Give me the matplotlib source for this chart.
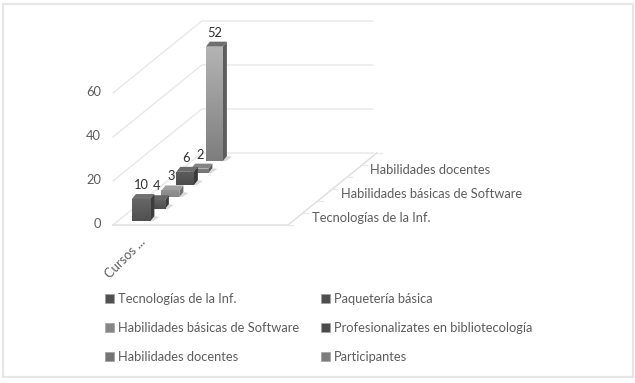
import matplotlib
matplotlib.use("Agg")
import matplotlib.pyplot as plt
import numpy as np
from matplotlib.colors import LinearSegmentedColormap
from matplotlib.patches import Patch, Polygon, Rectangle

plt.rcParams["font.family"] = ["Lato", "DejaVu Sans"]

category = "Cursos ..."
series = [
    "Tecnologías de la Inf.",
    "Paquetería básica",
    "Habilidades básicas de Software",
    "Profesionalizates en bibliotecología",
    "Habilidades docentes",
    "Participantes",
]
values = [10, 4, 3, 6, 2, 52]
yticks = [0, 20, 40, 60]
depth_labels = ["Tecnologías de la Inf.", "Habilidades básicas de Software", "Habilidades docentes"]
depth_label_slots = [0, 2, 4]

# front (top, bottom), side, top face
colors = [
    ("#666666", "#505050", "#3c3c3c", "#707070"),
    ("#606060", "#4e4e4e", "#3c3c3c", "#666666"),
    ("#929292", "#868686", "#707070", "#a0a0a0"),
    ("#5e5e5e", "#4c4c4c", "#3a3a3a", "#6c6c6c"),
    ("#808080", "#747474", "#5c5c5c", "#848484"),
    ("#b4b4b4", "#7e7e7e", "#5c5c5c", "#6e6e6e"),
]

TEXT = "#5c5c5c"
GRID = "#e8e8e8"
FONT = 9.3
X0, Y0 = 113, 225  # front left corner of the floor
FLOOR_W = 175
SLOT_DX, SLOT_DY = 14.8, 12
PX_PER_UNIT = 2.2
N = len(series)


def project(x, depth, value=0):
    return X0 + x + depth * SLOT_DX, Y0 - depth * SLOT_DY - value * PX_PER_UNIT


def draw_bar(ax, i, value):
    front_c, back_c, side_c, top_c = colors[i]
    width = 18.5 - 0.3 * i
    dx, dy = 4, 5
    x, y = project(14, i + 0.33, 0)
    top = y - value * PX_PER_UNIT
    z = 10 + (N - i)
    # soft ground shadow
    ax.add_patch(Polygon([(x + 2, y), (x + width + 3, y), (x + width + dx + 5, y - dy + 1), (x + width + dx, y - dy)],
                         fc="#dadada", ec="none", zorder=z))
    ax.add_patch(Polygon([(x + width, y), (x + width + dx, y - dy), (x + width + dx, top - dy), (x + width, top)],
                         fc=side_c, ec="none", zorder=z))
    ax.add_patch(Polygon([(x, top), (x + width, top), (x + width + dx, top - dy), (x + dx, top - dy)],
                         fc=top_c, ec="none", zorder=z))
    cmap = LinearSegmentedColormap.from_list("f", [front_c, back_c])
    im = ax.imshow(np.linspace(0, 1, 64).reshape(-1, 1), cmap=cmap, aspect="auto",
                   extent=(x, x + width, y, top), zorder=z, interpolation="bilinear")
    clip = Rectangle((x, top), width, y - top, transform=ax.transData)
    im.set_clip_path(clip)
    ax.text(x + width / 2 + 0.5, top - 14, str(value), color="#303030", fontsize=FONT,
            ha="center", va="center", zorder=30)


fig = plt.figure(figsize=(6.35, 3.83), dpi=100)
ax = fig.add_axes([0, 0, 1, 1])

# outer frame of the pasted chart
ax.add_patch(Rectangle((3, 4), 630, 373, fc="white", ec="#e6e6e6", lw=1.6, zorder=0))

# wall gridlines
for t in yticks:
    xa, ya = project(0, 0, t)
    xb, yb = project(0, 6, t)
    ax.plot([xa, xb, 373], [ya, yb, yb], color=GRID, lw=1, zorder=1, solid_joinstyle="miter")
    ax.text(101, ya - 1, str(t), color=TEXT, fontsize=FONT, ha="right", va="center")

# floor
xa, ya = project(FLOOR_W, 0)
xb, yb = project(FLOOR_W, 6)
ax.plot([X0, xa, xb], [Y0, ya, yb], color="#e0e0e0", lw=1.1, zorder=2)
for d in range(7):
    tx, ty = project(FLOOR_W, d)
    ax.plot([tx, tx + 5], [ty, ty], color=GRID, lw=0.9, zorder=2)

for slot, label in zip(depth_label_slots, depth_labels):
    tx, ty = project(FLOOR_W, slot + 0.5)
    ax.text(tx + 16.5 - 0.3 * slot, ty - 1, label, color=TEXT, fontsize=FONT, ha="left", va="center")

for i, value in enumerate(values):
    draw_bar(ax, i, value)

ax.text(125, 258, category, color=TEXT, fontsize=FONT, rotation=45, ha="center", va="center")

handles = [Patch(fc=colors[i][1], ec="#a0a0a0", lw=0.5, label=series[i]) for i in [0, 2, 4, 1, 3, 5]]
ax.legend(handles=handles, ncol=2, loc="upper left", bbox_to_anchor=(105, 293), bbox_transform=ax.transData,
          frameon=False, fontsize=FONT, labelcolor=TEXT, handlelength=0.7, handleheight=0.7,
          handletextpad=0.3, labelspacing=1.3, columnspacing=1.7, borderpad=0, borderaxespad=0)

ax.set_xlim(0, 635)
ax.set_ylim(383, 0)
ax.axis("off")
fig.savefig("out.png", dpi=100)
